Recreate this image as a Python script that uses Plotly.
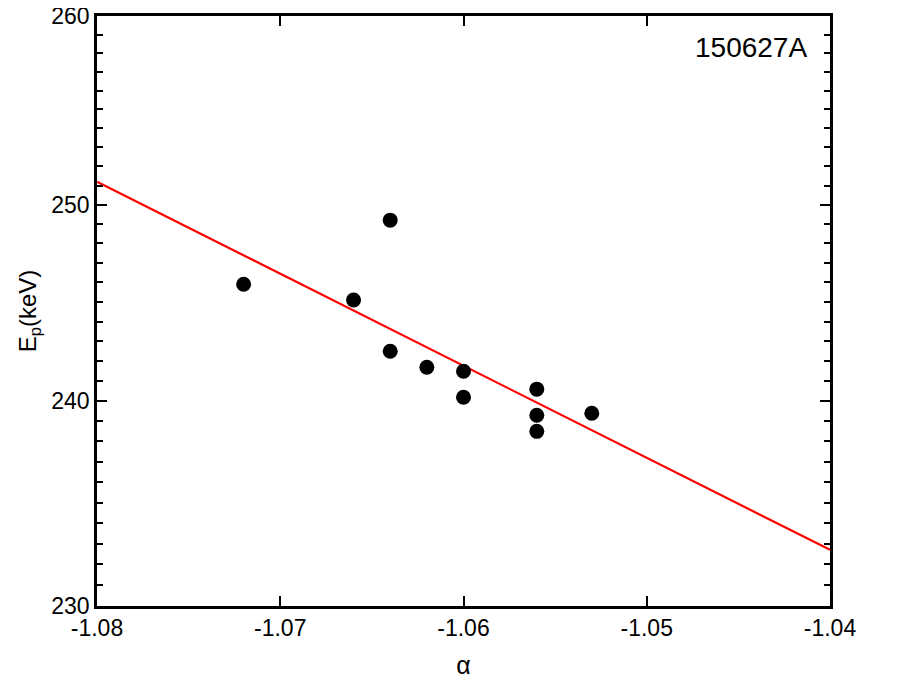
import numpy as np
import plotly.graph_objects as go

# data points
alpha = [-1.072, -1.066, -1.064, -1.064, -1.062, -1.060, -1.060, -1.056, -1.056, -1.056, -1.053]
ep = [245.9, 245.1, 249.2, 242.5, 241.7, 241.5, 240.2, 240.6, 239.3, 238.5, 239.4]

# fitted line (endpoints at the frame edges)
fit_alpha = [-1.08, -1.04]
fit_ep = [251.2, 232.7]

x_ticks = [-1.08, -1.07, -1.06, -1.05, -1.04]
y_ticks = [230, 240, 250, 260]
y_minor = [v for v in range(231, 260) if v not in y_ticks]

font = "Liberation Sans, Arial, sans-serif"

fig = go.Figure()
fig.add_trace(go.Scatter(x=fit_alpha, y=fit_ep, mode='lines',
                         line=dict(color='#ff0000', width=2.2), showlegend=False))
fig.add_trace(go.Scatter(x=alpha, y=ep, mode='markers',
                         marker=dict(color='black', size=15), showlegend=False))

# page body has an 8px margin, so the figure is shifted right/down by 8
fig.update_layout(
    width=917, height=695,
    margin=dict(l=89, r=95, t=8, b=97, autoexpand=False),
    plot_bgcolor='white', paper_bgcolor='white',
    font=dict(family=font, size=23, color='black'),
    annotations=[dict(x=0.971, y=0.946, xref='paper', yref='paper',
                      text='150627A', showarrow=False, xanchor='right', yanchor='middle',
                      font=dict(size=28, family=font, color='black'))],
)

fig.update_xaxes(
    range=[-1.08, -1.04], tickvals=x_ticks, ticktext=['%.2f' % v for v in x_ticks],
    showgrid=False, zeroline=False, automargin=False,
    showline=True, linecolor='black', linewidth=2.5, mirror='ticks',
    ticks='inside', ticklen=10, tickwidth=2, tickcolor='black',
    tickfont=dict(size=23), ticklabeloverflow='allow',
    title=dict(text='α', font=dict(size=25), standoff=17),
)

fig.update_yaxes(
    type='log', range=[np.log10(230), np.log10(260)],
    tickvals=y_ticks, ticktext=[str(v) for v in y_ticks],
    showgrid=False, zeroline=False, automargin=False,
    showline=True, linecolor='black', linewidth=2.5, mirror='ticks',
    ticks='inside', ticklen=10, tickwidth=2, tickcolor='black',
    tickfont=dict(size=23), ticklabelstandoff=0, ticklabeloverflow='allow',
    minor=dict(tickvals=y_minor, ticks='inside', ticklen=6, tickwidth=2,
               tickcolor='black', showgrid=False),
    title=dict(text='E<sub>p</sub>(keV)', font=dict(size=24), standoff=8),
)

fig.write_html("out.html")
